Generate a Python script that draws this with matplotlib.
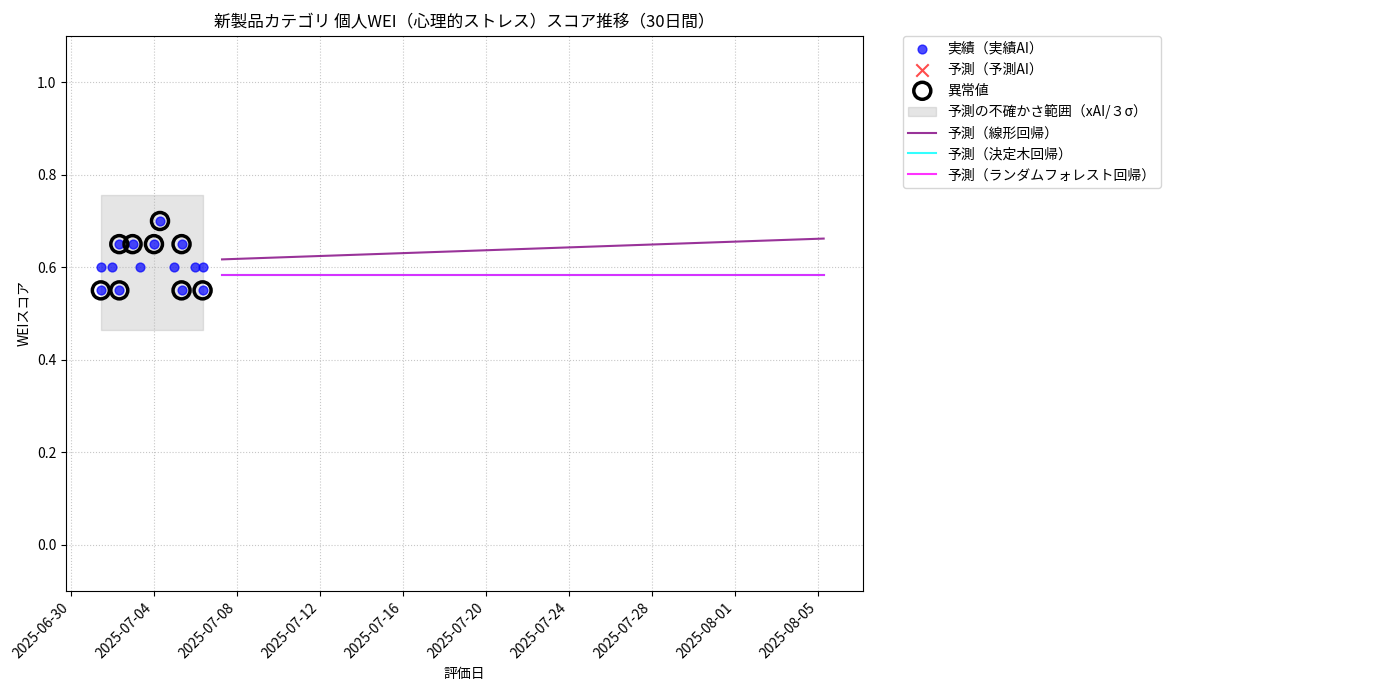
import pandas as pd
import numpy as np
import matplotlib
matplotlib.use('Agg')
import matplotlib.pyplot as plt
import matplotlib.dates as mdates

plt.rcParams['font.family'] = ['Noto Sans CJK JP', 'DejaVu Sans']

# actual scores
actual_dates = pd.to_datetime([
    '2025-07-01 10:20', '2025-07-01 10:20', '2025-07-01 23:30', '2025-07-02 07:40', '2025-07-02 07:40',
    '2025-07-02 23:00', '2025-07-03 08:00', '2025-07-03 23:45', '2025-07-04 06:45', '2025-07-04 23:15',
    '2025-07-05 07:40', '2025-07-05 07:40', '2025-07-05 23:00', '2025-07-06 08:00', '2025-07-06 08:00',
])
actual_scores = [0.55, 0.60, 0.60, 0.55, 0.65, 0.65, 0.60, 0.65, 0.70, 0.60, 0.55, 0.65, 0.60, 0.55, 0.60]
anomaly = [True, False, False, True, True, True, False, True, True, False, True, True, False, True, False]

# forecast lines
fc_dates = pd.date_range('2025-07-07 06:30', periods=30, freq='D')
linear_start, linear_end = 0.617, 0.662
linear_pred = np.linspace(linear_start, linear_end, 30)
tree_pred = [0.583] * 30
rf_pred = [0.583] * 30
band_lo, band_hi = 0.465, 0.757

fig = plt.figure(figsize=(14, 7), dpi=100)
ax = fig.add_axes([66/1400, 1 - 591/700, 797/1400, 555/700])

ax.scatter(actual_dates, actual_scores, color='blue', alpha=0.7, s=40, label='実績（実績AI）', zorder=3)
ax.scatter([], [], color='red', marker='x', s=80, alpha=0.7, label='予測（予測AI）')
an_d = [d for d, a in zip(actual_dates, anomaly) if a]
an_s = [s for s, a in zip(actual_scores, anomaly) if a]
ax.scatter(an_d, an_s, facecolors='none', edgecolors='black', s=150, linewidths=2.5, label='異常値', zorder=4)
ax.fill_between([actual_dates.min(), actual_dates.max()], band_lo, band_hi, color='gray', alpha=0.2,
                label='予測の不確かさ範囲（xAI/３σ）')
ax.plot(fc_dates, linear_pred, color='purple', alpha=0.8, label='予測（線形回帰）')
ax.plot(fc_dates, tree_pred, color='cyan', alpha=0.8, label='予測（決定木回帰）')
ax.plot(fc_dates, rf_pred, color='magenta', alpha=0.8, label='予測（ランダムフォレスト回帰）')

ax.set_ylim(-0.1, 1.1)
ax.set_xlim(pd.Timestamp('2025-06-29 18:00'), pd.Timestamp('2025-08-07 04:00'))
ax.xaxis.set_major_locator(mdates.DayLocator(interval=4))
ax.xaxis.set_major_formatter(mdates.DateFormatter('%Y-%m-%d'))
plt.setp(ax.get_xticklabels(), rotation=45, ha='right')
ax.grid(True, linestyle=':', alpha=0.7)
ax.set_title('新製品カテゴリ 個人WEI（心理的ストレス）スコア推移（30日間）', fontsize=12)
ax.set_xlabel('評価日')
ax.set_ylabel('WEIスコア')
ax.legend(bbox_to_anchor=(1.05, 1), loc='upper left', borderaxespad=0.)

fig.savefig('out.png', dpi=100)
